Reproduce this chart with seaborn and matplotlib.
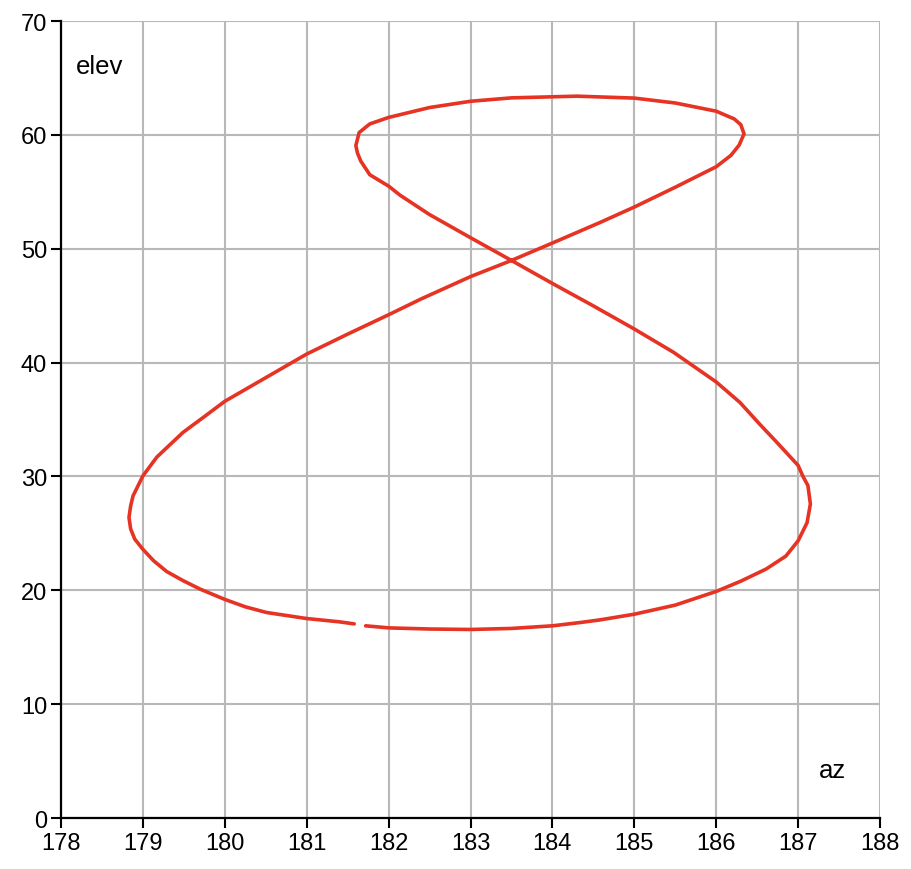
import pandas as pd
import matplotlib
matplotlib.use("Agg")
import matplotlib.pyplot as plt
import seaborn as sns

#
# Data: sun position over one year (azimuth, elevation)
#
az = [181.58, 181.40, 181.00, 180.51, 180.25, 180.00, 179.70, 179.49, 179.29,
      179.13, 179.00, 178.90, 178.85, 178.83, 178.85, 178.88, 179.00, 179.17,
      179.49, 179.74, 180.00, 180.47, 181.00, 181.50, 182.00, 182.40, 183.00,
      183.50, 184.00, 184.58, 185.00, 185.50, 186.00, 186.18, 186.28, 186.34,
      186.30, 186.22, 186.00, 185.50, 185.00, 184.30, 183.50, 183.00, 182.50,
      182.00, 181.77, 181.64, 181.60, 181.62, 181.66, 181.77, 182.00, 182.14,
      182.50, 183.00, 183.50, 184.00, 184.50, 185.00, 185.48, 185.66, 186.00,
      186.29, 186.53, 186.74, 187.00, 187.06, 187.12, 187.15, 187.11, 187.00,
      186.85, 186.61, 186.30, 186.00, 185.50, 185.00, 184.58, 184.34, 184.00,
      183.50, 183.00, 182.50, 182.00, 181.72]
elev = [17.05, 17.23, 17.52, 18.05, 18.55, 19.20, 20.10, 20.85, 21.65,
        22.60, 23.60, 24.50, 25.40, 26.40, 27.40, 28.30, 30.05, 31.70,
        33.87, 35.20, 36.60, 38.55, 40.75, 42.50, 44.20, 45.60, 47.55,
        48.97, 50.50, 52.30, 53.66, 55.40, 57.20, 58.20, 59.10, 60.09,
        60.90, 61.40, 62.08, 62.80, 63.23, 63.40, 63.25, 62.95, 62.40,
        61.53, 60.96, 60.20, 59.06, 58.40, 57.70, 56.50, 55.50, 54.70,
        53.00, 50.97, 48.97, 46.95, 44.98, 42.95, 40.90, 40.00, 38.30,
        36.50, 34.60, 33.00, 30.97, 30.00, 29.20, 27.58, 25.95, 24.34,
        23.00, 21.87, 20.80, 19.90, 18.70, 17.90, 17.40, 17.17, 16.88,
        16.65, 16.56, 16.60, 16.70, 16.88]
x_ticks = list(range(178, 189))
y_ticks = list(range(0, 71, 10))

df = pd.DataFrame({"az": az, "elev": elev})

#
# Plot
#
sns.set_style("ticks")
plt.rcParams["font.family"] = ["Liberation Sans", "DejaVu Sans"]
plt.rcParams["text.color"] = "black"
fig, ax = plt.subplots(figsize=(9.12, 8.7), dpi=100)
fig.subplots_adjust(left=0.0669, right=0.9649, bottom=0.0586, top=0.9747)

sns.lineplot(data=df, x="az", y="elev", sort=False, estimator=None,
             color="#e63323", linewidth=2.6, ax=ax, zorder=3)

ax.set_xlim(178, 188)
ax.set_ylim(0, 70)
ax.set_xticks(x_ticks)
ax.set_yticks(y_ticks)
ax.grid(True, color="#b8b8b8", linewidth=1.5)
ax.set_axisbelow(True)
ax.tick_params(direction="out", length=7, width=1.5, color="black",
               labelcolor="black", labelsize=17, pad=3)
for side in ["left", "bottom"]:
    ax.spines[side].set_linewidth(1.6)
    ax.spines[side].set_color("black")
    ax.spines[side].set_zorder(4)
sns.despine(ax=ax)

ax.set_xlabel("")
ax.set_ylabel("")
ax.text(0.018, 0.943, "elev", transform=ax.transAxes, fontsize=18.5,
        ha="left", va="center", color="black")
ax.text(0.958, 0.06, "az", transform=ax.transAxes, fontsize=18.5,
        ha="right", va="center", color="black")

fig.savefig("out.png", dpi=100)
